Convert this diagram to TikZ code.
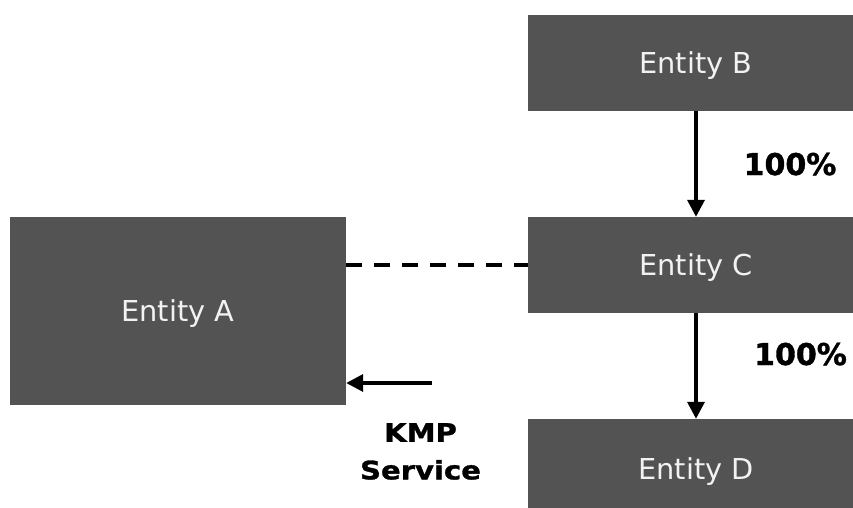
\documentclass[tikz,border=0pt]{standalone}
\usepackage{fontspec}
\setmainfont{DejaVu Sans}[BoldFeatures={FakeBold=1.2}]
\newfontfamily\kmpfont[FakeStretch=1.14, BoldFeatures={FakeBold=1.2}]{DejaVu Sans}
\usetikzlibrary{arrows.meta}
\definecolor{boxgray}{HTML}{535353}
\definecolor{boxtext}{HTML}{F2F2F2}
\begin{document}
\begin{tikzpicture}[x=1pt,y=-1pt,
  entity/.style={fill=boxgray, draw=none, text=boxtext, inner sep=0pt,
    font=\fontsize{28.8}{34}\selectfont, text height=21pt, text depth=0pt,
    minimum width=336pt},
  flowarrow/.style={line width=3.5pt, -{Triangle[length=17pt,width=17pt]}},
  linkline/.style={line width=4pt, dash pattern=on 16pt off 12pt},
  pct/.style={font=\fontsize{30}{36}\selectfont\bfseries, anchor=base, inner sep=0pt},
  svc/.style={font=\kmpfont\fontsize{25.5}{37.6}\selectfont\bfseries, align=center, anchor=north, inner sep=0pt}
]
\useasboundingbox (0,0) rectangle (853,508);
\clip (0,0) rectangle (853,508);
\fill[white] (0,0) rectangle (853,508);

\node[entity, minimum height=188pt] (A) at (178,310.5) {Entity A};
\node[entity, minimum height=96pt] (B) at (696,63) {Entity B};
\node[entity, minimum height=96pt] (C) at (696,265) {Entity C};
\node[entity, minimum height=100pt] (D) at (696,469) {Entity D};

\draw[flowarrow] (B.south) -- (C.north);
\draw[flowarrow] (C.south) -- (D.north);
\draw[linkline] (C.west -| A.east) -- (C.west);

\coordinate (kmpstart) at (432,383);
\draw[flowarrow] (kmpstart) -- (kmpstart -| A.east);

\node[pct] (p1) at (790,175) {100\%};
\node[pct] (p2) at (800.5,365) {100\%};
\node[svc] (kmp) at (420.5,423) {KMP\\Service};
\end{tikzpicture}
\end{document}
